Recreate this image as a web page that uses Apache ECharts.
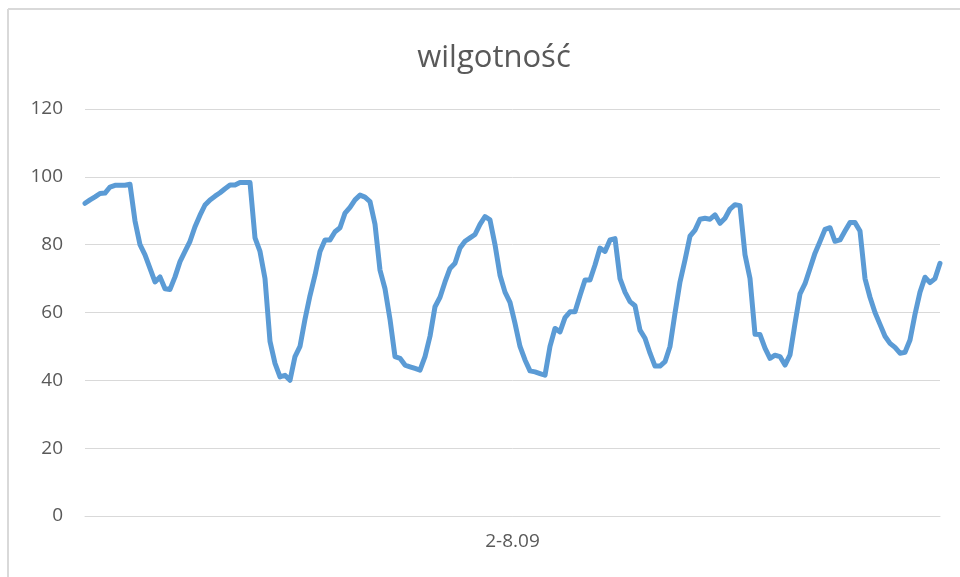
<!DOCTYPE html>
<html>
<head>
<meta charset="utf-8">
<script src="https://cdn.jsdelivr.net/npm/echarts@6/dist/echarts.min.js"></script>
<style>
html,body{margin:0;padding:0;background:#fff;}
#c{width:960px;height:577px;}
</style>
</head>
<body>
<div id="c"></div>
<script>
const title = 'wilgotność';
const xLabel = '2-8.09';
const yTicks = [0, 20, 40, 60, 80, 100, 120];
const humidity = [
  92.2, 93.2, 94.1, 95.1, 95.2, 97, 97.5, 97.5, 97.5, 97.8,
  87, 80, 77, 73, 69, 70.5, 67, 66.8, 70.5, 75,
  78, 81, 85.3, 88.7, 91.7, 93.2, 94.3, 95.3, 96.5, 97.6,
  97.6, 98.3, 98.3, 98.3, 82, 78, 70, 51.5, 45, 41,
  41.5, 40, 47, 50, 58, 65, 71, 78, 81.4, 81.4,
  83.8, 85, 89.3, 91, 93.2, 94.6, 94, 92.7, 86, 72.5,
  67, 58, 47, 46.5, 44.5, 44, 43.5, 43, 47, 53,
  61.7, 64.5, 69, 73, 74.5, 79, 81, 82, 83, 86,
  88.3, 87.3, 80, 71, 66, 63, 56.8, 50, 46, 42.8,
  42.5, 42, 41.5, 50, 55.3, 54.3, 58.5, 60.2, 60.2, 65,
  69.6, 69.6, 74, 79, 78, 81.4, 81.8, 70, 66, 63.2,
  62, 54.8, 52.4, 48, 44.2, 44.2, 45.5, 50, 59.8, 69,
  75.5, 82.5, 84.3, 87.5, 87.8, 87.5, 88.8, 86.3, 87.8, 90.5,
  91.8, 91.5, 77, 70, 53.6, 53.5, 49.5, 46.5, 47.4, 47,
  44.5, 47.5, 56.8, 65.5, 68.5, 73, 77.5, 80.9, 84.5, 85,
  81, 81.4, 84, 86.5, 86.5, 84, 70, 64.5, 60, 56.5,
  53, 50.9, 49.7, 48, 48.3, 51.9, 59.5, 66, 70.4, 68.8,
  70, 74.5
];
const categories = humidity.map((_, i) => String(i));

const chart = echarts.init(document.getElementById('c'), null, {renderer: 'canvas'});
const font = '"Open Sans", "Noto Sans", sans-serif';
chart.setOption({
  animation: false,
  backgroundColor: '#ffffff',
  title: {
    text: title,
    left: 489,
    top: 38,
    textAlign: 'center',
    textStyle: {fontFamily: font, fontSize: 31, fontWeight: 'normal', color: '#595959'}
  },
  graphic: [
    {type: 'line', shape: {x1: 8, y1: 9, x2: 960, y2: 9}, style: {stroke: '#d9d9d9', lineWidth: 2}, silent: true},
    {type: 'line', shape: {x1: 8, y1: 9, x2: 8, y2: 577}, style: {stroke: '#d9d9d9', lineWidth: 2}, silent: true}
  ],
  grid: {left: 85, right: 20, top: 109, bottom: 61, containLabel: false},
  xAxis: {
    type: 'category',
    data: categories,
    boundaryGap: false,
    axisLine: {show: true, lineStyle: {color: '#d9d9d9', width: 1}},
    axisTick: {show: false},
    axisLabel: {show: false},
    splitLine: {show: false},
    name: xLabel,
    nameLocation: 'middle',
    nameGap: 16,
    nameTextStyle: {fontFamily: font, fontSize: 19, color: '#595959'}
  },
  yAxis: {
    type: 'value',
    min: yTicks[0],
    max: yTicks[yTicks.length - 1],
    interval: yTicks[1] - yTicks[0],
    axisLine: {show: false},
    axisTick: {show: false},
    axisLabel: {fontFamily: font, fontSize: 19, color: '#595959', margin: 22},
    splitLine: {lineStyle: {color: '#d9d9d9', width: 1}}
  },
  series: [{
    type: 'line',
    data: humidity,
    showSymbol: false,
    symbol: 'none',
    smooth: false,
    lineStyle: {color: '#5B9BD5', width: 5, cap: 'round', join: 'round'}
  }]
});
</script>
</body>
</html>
